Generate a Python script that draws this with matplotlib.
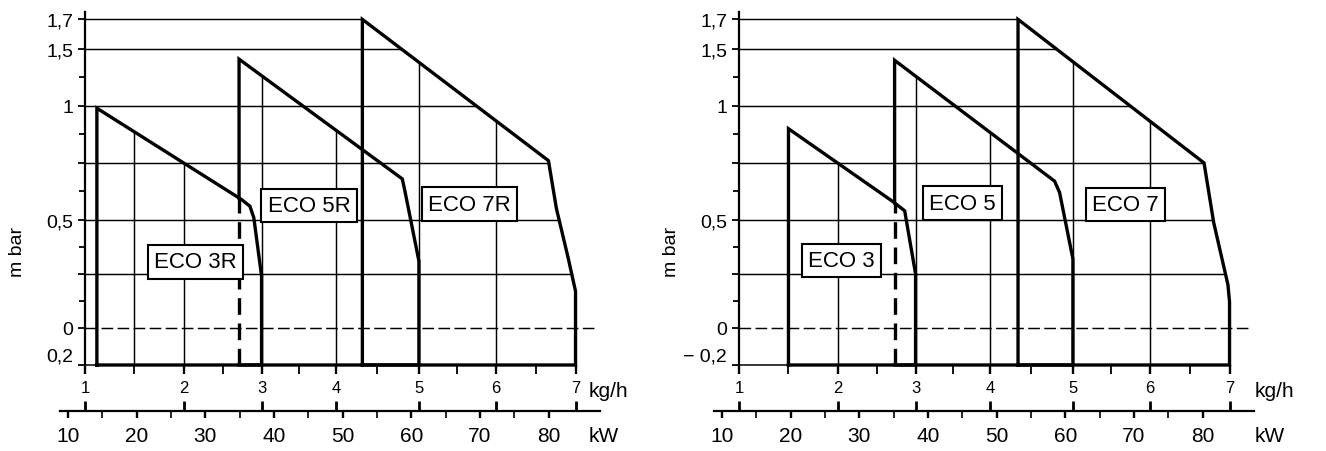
import numpy as np
import matplotlib
matplotlib.use("Agg")
import matplotlib.pyplot as plt

plt.rcParams['font.family'] = ['Liberation Sans', 'DejaVu Sans']

# ---------------- data ----------------
kgh_ticks = [1, 2, 3, 4, 5, 6, 7]
kgh_tick_labels = ['1', '2', '3', '4', '5', '6', '7']
kgh_kw = [12.5, 26.9, 38.2, 49.0, 61.1, 72.3, 83.9]   # kW under each kg/h tick
kgh_minor = [1.5, 2.5, 3.5, 4.5, 5.5, 6.5]
kw_major = [10, 20, 30, 40, 50, 60, 70, 80]
kw_labels = ['10', '20', '30', '40', '50', '60', '70', '80']
kw_minor = [15, 25, 35, 45, 55, 65, 75]

mbar_major = [-0.2, 0, 0.25, 0.5, 0.75, 1, 1.5, 1.7]
mbar_labels_left = ['0,2', '0', '', '0,5', '', '1', '1,5', '1,7']
mbar_labels_right = ['\u2212 0,2', '0', '', '0,5', '', '1', '1,5', '1,7']
mbar_minor = [0.125, 0.375, 0.625, 0.875, 1.25]
mbar_grid = [1.7, 1.5, 1, 0.75, 0.5, 0.25]

# left chart (ECO ..R)
eco3r_kgh = [1.12, 1.12, 2.74, 2.85, 2.90, 3.0, 3.0]
eco3r_mbar = [-0.2, 0.99, 0.59, 0.56, 0.51, 0.24, -0.2]
eco5r_kgh = [2.71, 2.71, 4.80, 4.83, 5.0, 5.0]
eco5r_mbar = [-0.2, 1.41, 0.68, 0.63, 0.31, -0.2]
eco7r_kgh = [4.32, 4.32, 6.66, 6.76, 6.91, 7.0, 7.0]
eco7r_mbar = [-0.2, 1.7, 0.76, 0.55, 0.32, 0.17, -0.2]
left_names = ['ECO 3R', 'ECO 5R', 'ECO 7R']
left_label_kgh = [2.15, 3.64, 5.66]
left_label_mbar = [0.306, 0.564, 0.569]
left_vgrid = [1.5, 2, 3, 4, 5, 6]

# right chart (ECO ..)
eco3_kgh = [1.5, 1.5, 2.71, 2.86, 2.88, 3.0, 3.0]
eco3_mbar = [-0.2, 0.90, 0.58, 0.54, 0.50, 0.25, -0.2]
eco5_kgh = [2.73, 2.73, 4.78, 4.84, 5.0, 5.0]
eco5_mbar = [-0.2, 1.40, 0.67, 0.62, 0.32, -0.2]
eco7_kgh = [4.34, 4.34, 6.68, 6.80, 6.98, 7.0, 7.0]
eco7_mbar = [-0.2, 1.7, 0.75, 0.49, 0.20, 0.12, -0.2]
right_names = ['ECO 3', 'ECO 5', 'ECO 7']
right_label_kgh = [2.04, 3.63, 5.68]
right_label_mbar = [0.312, 0.574, 0.567]
right_vgrid = [2, 3, 4, 5, 6]

# ---------------- scales ----------------
MBAR_KNOTS = [-0.2, 0, 0.5, 1, 1.5, 1.7]
POS_KNOTS = [0, 37, 145, 259, 316, 345.5]


def interp_ext(x, xp, fp):
    x = np.asarray(x, float)
    xp = np.asarray(xp, float)
    fp = np.asarray(fp, float)
    y = np.interp(x, xp, fp)
    s0 = (fp[1] - fp[0]) / (xp[1] - xp[0])
    s1 = (fp[-1] - fp[-2]) / (xp[-1] - xp[-2])
    y = np.where(x < xp[0], fp[0] + (x - xp[0]) * s0, y)
    y = np.where(x > xp[-1], fp[-1] + (x - xp[-1]) * s1, y)
    return y


def fy(v):
    return interp_ext(v, MBAR_KNOTS, POS_KNOTS)


def fy_inv(p):
    return interp_ext(p, POS_KNOTS, MBAR_KNOTS)


def to_kw(k):
    return interp_ext(k, kgh_ticks, kgh_kw)


W, H = 1326, 452
fig = plt.figure(figsize=(W / 100, H / 100), dpi=100)
fig.patch.set_facecolor('white')

LW_CURVE = 2.4
LW_GRID = 1.05


def top_boundary(k, m):
    return to_kw(k[1:-1]), fy(m[1:-1])


def draw_chart(ax, curves, names, lab_k, lab_m, vgrid, ylabels):
    ax.set_yscale('function', functions=(fy, fy_inv))
    ax.set_xlim(8.86, 87.46)
    ax.set_ylim(-0.2, 1.75)
    for s in ['top', 'right', 'bottom']:
        ax.spines[s].set_visible(False)
    ax.spines['left'].set_position(('data', float(to_kw(1))))
    ax.spines['left'].set_linewidth(1.6)

    ax.set_xticks(to_kw(kgh_ticks), kgh_tick_labels)
    ax.set_xticks(to_kw(kgh_minor), minor=True)
    ax.tick_params(axis='x', which='major', direction='out', length=6.5,
                   width=1.7, labelsize=12, pad=4.5)
    ax.tick_params(axis='x', which='minor', direction='out', length=6.5,
                   width=1.3)
    ax.set_yticks(mbar_major, ylabels)
    ax.set_yticks(mbar_minor, minor=True)
    ax.tick_params(axis='y', which='major', direction='out', length=5,
                   width=1.3, labelsize=14, pad=3.5)
    ax.tick_params(axis='y', which='minor', direction='out', length=4.5,
                   width=1.3)
    ax.yaxis.get_major_ticks()[0].label1.set_verticalalignment('bottom')

    # kW scale
    sec = ax.secondary_xaxis(-0.1303)
    sec.set_xticks(kw_major, kw_labels)
    sec.set_xticks(kw_minor, minor=True)
    sec.tick_params(which='major', direction='out', length=5, width=1.7,
                    labelsize=15, pad=5.5)
    sec.tick_params(which='minor', direction='out', length=5, width=1.2)
    sec.spines['bottom'].set_linewidth(1.6)
    # kg/h marks on kW scale
    up = ax.secondary_xaxis(-0.1303)
    up.set_xticks(to_kw(kgh_ticks))
    up.tick_params(which='major', direction='in', length=7.2, width=2.0,
                   labelbottom=False)
    up.spines['bottom'].set_visible(False)

    tops = [top_boundary(k, m) for k, m in curves]

    # vertical grid lines up to the highest curve
    for xg in vgrid:
        Xg = float(to_kw(xg))
        vals = [np.interp(Xg, X, Y) for X, Y in tops if X[0] <= Xg <= X[-1]]
        ytop = float(fy_inv(max(vals)))
        ax.plot([Xg, Xg], [-0.2, ytop], color='k', lw=LW_GRID, zorder=1,
                clip_on=False)
    # horizontal grid lines up to the outer curve
    Xo, Yo = tops[-1]
    for L in mbar_grid:
        Xe = float(np.interp(fy(L), Yo[::-1], Xo[::-1]))
        ax.plot([float(to_kw(1)), Xe], [L, L], color='k', lw=LW_GRID,
                zorder=1, clip_on=False)
    ax.plot([float(to_kw(1)), float(to_kw(7.27))], [0, 0], color='k',
            lw=LW_GRID, ls=(0, (8, 3)), zorder=1, clip_on=False)
    ax.plot([float(to_kw(1)), float(to_kw(7))], [-0.2, -0.2], color='k',
            lw=1.1, zorder=1, clip_on=False)

    # curves
    for i, (k, m) in enumerate(curves):
        kk = list(k) + [k[0]]
        mm = list(m) + [m[0]]
        if i == 1:
            X1, Y1 = tops[0]
            ysplit = float(fy_inv(np.interp(float(to_kw(k[0])), X1, Y1)))
            ks = [k[0]] + list(k[1:]) + [k[0]]
            ms = [ysplit] + list(m[1:]) + [m[0]]
            ax.plot(to_kw(ks), ms, color='k', lw=LW_CURVE, zorder=3,
                    clip_on=False, solid_joinstyle='miter')
            ax.plot(to_kw([k[0], k[0]]), [m[0], ysplit], color='k',
                    lw=LW_CURVE, ls=(0, (5, 2.6)), zorder=3, clip_on=False)
        else:
            ax.plot(to_kw(kk), mm, color='k', lw=LW_CURVE, zorder=3,
                    clip_on=False, solid_joinstyle='miter')

    for name, xk, ym in zip(names, lab_k, lab_m):
        ax.text(float(to_kw(xk)), ym, name, ha='center', va='center',
                fontsize=16, zorder=5,
                bbox=dict(boxstyle='square,pad=0.28', fc='white', ec='black',
                          lw=1.5))


ax_l = fig.add_axes([60 / W, (H - 366) / H, 540 / W, 353 / H])
ax_r = fig.add_axes([714 / W, (H - 366) / H, 540 / W, 353 / H])
for a in (ax_l, ax_r):
    a.patch.set_alpha(0)

draw_chart(ax_l,
           [(eco3r_kgh, eco3r_mbar), (eco5r_kgh, eco5r_mbar),
            (eco7r_kgh, eco7r_mbar)],
           left_names, left_label_kgh, left_label_mbar, left_vgrid,
           mbar_labels_left)
draw_chart(ax_r,
           [(eco3_kgh, eco3_mbar), (eco5_kgh, eco5_mbar),
            (eco7_kgh, eco7_mbar)],
           right_names, right_label_kgh, right_label_mbar, right_vgrid,
           mbar_labels_right)

for x0 in (17, 671):
    fig.text(x0 / W, 1 - 252 / H, 'm bar', rotation=90, ha='center',
             va='center', fontsize=14)
for x0 in (589, 1255):
    fig.text(x0 / W, 1 - 392 / H, 'kg/h', ha='left', va='center', fontsize=15)
    fig.text(x0 / W, 1 - 437 / H, 'kW', ha='left', va='center', fontsize=15)

fig.savefig('out.png', dpi=100, facecolor='white')
